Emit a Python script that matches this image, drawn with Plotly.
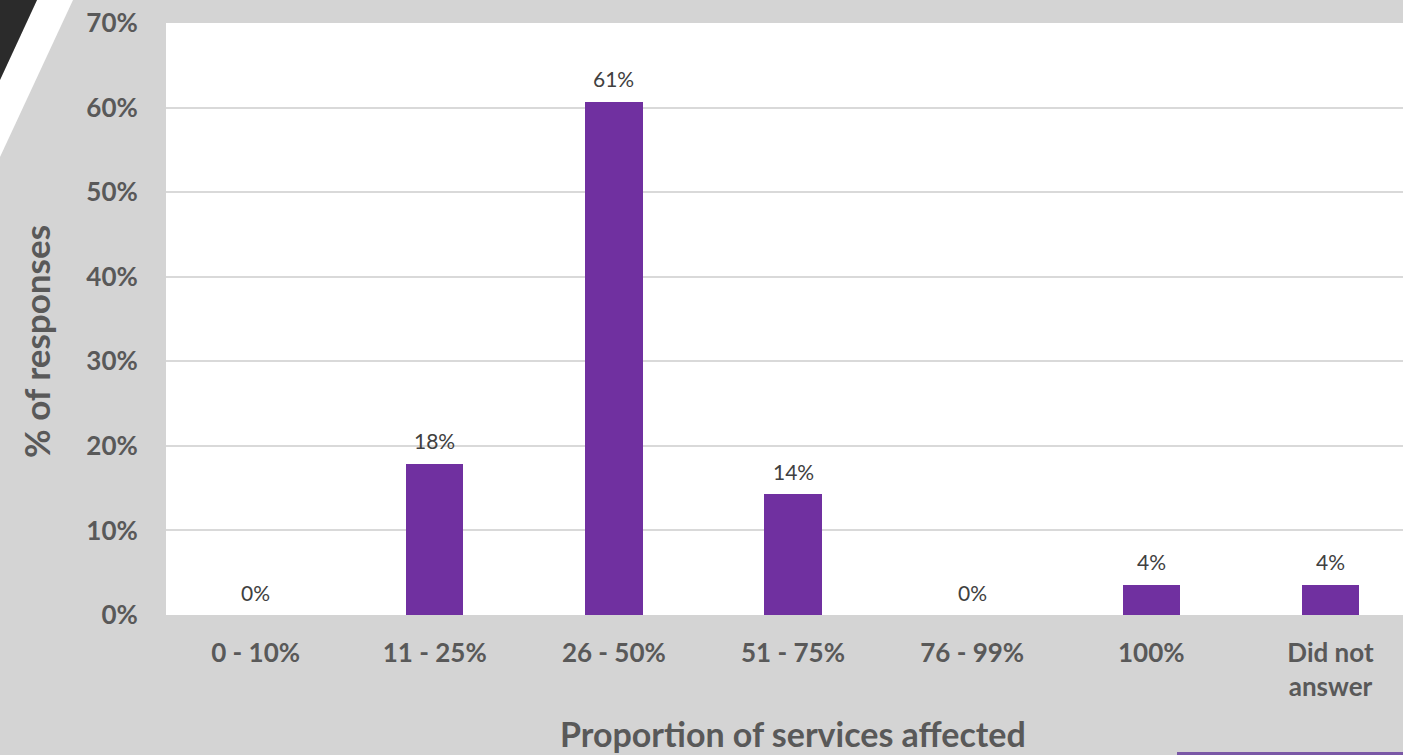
import plotly.graph_objects as go

categories = ["0 - 10%", "11 - 25%", "26 - 50%", "51 - 75%", "76 - 99%", "100%", "Did not<br>answer"]
values = [0.0, 0.179, 0.607, 0.143, 0.0, 0.036, 0.036]
labels = [f"{round(v*100)}%" for v in values]
y_ticks = [0, 0.1, 0.2, 0.3, 0.4, 0.5, 0.6, 0.7]
y_tick_text = [f"{int(round(t*100))}%" for t in y_ticks]

W, H = 1403, 755
L, R, T, B = 166, 0, 23, 140
pw, ph = W - L - R, H - T - B

def px(x):
    return (x - L) / pw

def py(y):
    return (H - B - y) / ph

FONT = "Lato"
GRAY = "#595959"

xs = list(range(len(categories)))

fig = go.Figure(go.Bar(
    x=xs, y=values,
    marker=dict(color="#7030a0", line=dict(width=0)),
    width=0.32,
))

annotations = [
    dict(x=x, y=v, xref="x", yref="y", text=t, showarrow=False,
         xanchor="center", yanchor="middle", yshift=23,
         font=dict(family=FONT, size=21, color="#404040"))
    for x, v, t in zip(xs, values, labels)
]
annotations += [
    dict(text="Proportion of services affected", xref="paper", yref="paper",
         x=px(793), y=py(733), xanchor="center", yanchor="middle", showarrow=False,
         font=dict(family=FONT, size=34, color=GRAY, weight="bold")),
    dict(text="% of responses", xref="paper", yref="paper",
         x=px(36), y=py(342), xanchor="center", yanchor="middle", showarrow=False,
         textangle=-90,
         font=dict(family=FONT, size=35, color=GRAY, weight="bold")),
]

fig.update_layout(
    width=W, height=H,
    margin=dict(l=L, r=R, t=T, b=B),
    paper_bgcolor="#d4d4d4", plot_bgcolor="#ffffff",
    showlegend=False, bargap=0,
    xaxis=dict(
        tickmode="array", tickvals=xs, ticktext=categories,
        range=[-0.5, 6.405], showgrid=False, zeroline=False,
        ticks="outside", ticklen=15, tickcolor="rgba(0,0,0,0)",
        tickfont=dict(family=FONT, size=26, color=GRAY, weight="bold"),
    ),
    yaxis=dict(
        range=[0, 0.7], tickmode="array", tickvals=y_ticks, ticktext=y_tick_text,
        showgrid=True, gridcolor="#d9d9d9", gridwidth=1.5, zeroline=False,
        ticks="outside", ticklen=22, tickcolor="rgba(0,0,0,0)",
        tickfont=dict(family=FONT, size=26, color=GRAY, weight="bold"),
    ),
    annotations=annotations,
    shapes=[
        dict(type="path", xref="paper", yref="paper",
             path=f"M {px(37)},{py(0)} L {px(73)},{py(0)} L {px(0)},{py(157)} L {px(0)},{py(80)} Z",
             fillcolor="#ffffff", line=dict(width=0), layer="above"),
        dict(type="path", xref="paper", yref="paper",
             path=f"M {px(0)},{py(0)} L {px(37)},{py(0)} L {px(0)},{py(80)} Z",
             fillcolor="#2b2b2b", line=dict(width=0), layer="above"),
        dict(type="rect", xref="paper", yref="paper",
             x0=px(1177), x1=px(1403), y0=py(755), y1=py(752),
             fillcolor="#7a58a6", line=dict(width=0), layer="above"),
    ],
)

fig.write_html("out.html")
